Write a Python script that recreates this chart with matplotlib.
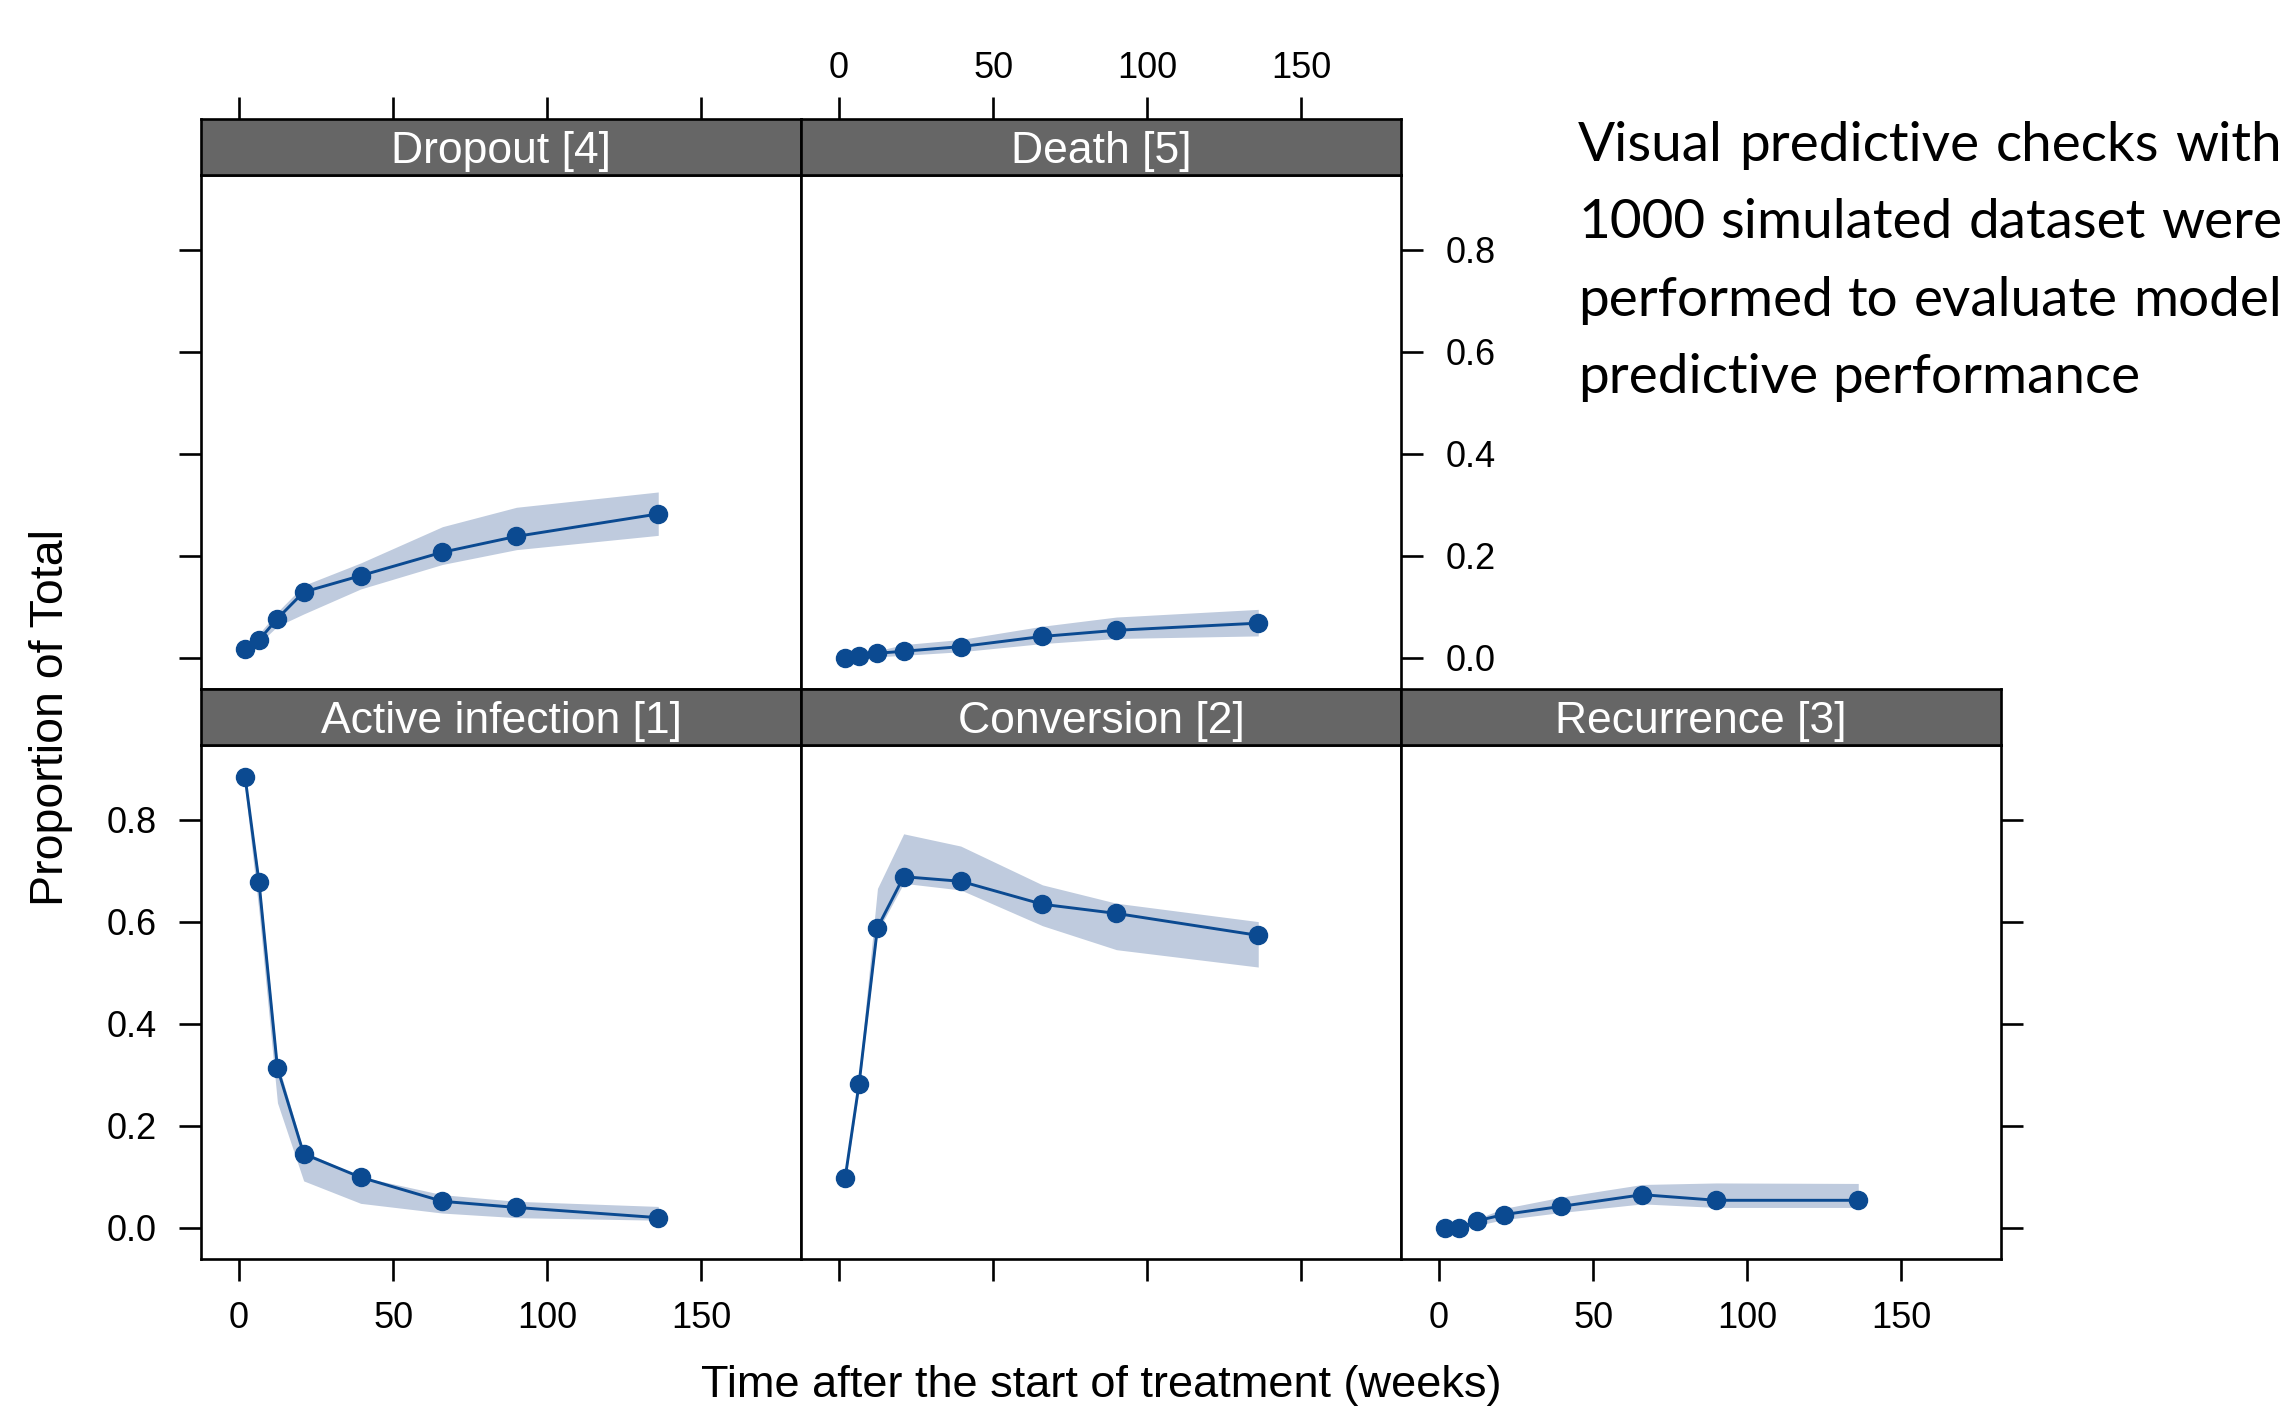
import matplotlib
matplotlib.use('Agg')
import matplotlib.pyplot as plt

# ---------------- data ----------------
times = [2, 6.5, 12.5, 21, 39.5, 66, 90, 136]

active_obs = [0.883, 0.678, 0.313, 0.145, 0.099, 0.052, 0.040, 0.020]
active_lo  = [0.860, 0.620, 0.245, 0.092, 0.048, 0.029, 0.020, 0.015]
active_hi  = [0.885, 0.690, 0.325, 0.150, 0.100, 0.065, 0.052, 0.042]

conv_obs = [0.097, 0.281, 0.588, 0.688, 0.679, 0.634, 0.616, 0.573]
conv_lo  = [0.090, 0.270, 0.580, 0.675, 0.662, 0.592, 0.545, 0.511]
conv_hi  = [0.100, 0.300, 0.665, 0.772, 0.748, 0.672, 0.636, 0.600]

rec_obs = [0.000, 0.000, 0.014, 0.026, 0.042, 0.065, 0.054, 0.054]
rec_lo  = [0.000, 0.000, 0.005, 0.016, 0.030, 0.047, 0.040, 0.040]
rec_hi  = [0.000, 0.004, 0.018, 0.038, 0.060, 0.085, 0.088, 0.087]

drop_obs = [0.018, 0.035, 0.077, 0.129, 0.161, 0.207, 0.238, 0.282]
drop_lo  = [0.013, 0.028, 0.062, 0.086, 0.135, 0.183, 0.212, 0.240]
drop_hi  = [0.025, 0.047, 0.090, 0.142, 0.186, 0.257, 0.295, 0.325]

death_obs = [0.000, 0.003, 0.009, 0.013, 0.022, 0.042, 0.054, 0.068]
death_lo  = [0.000, 0.000, 0.002, 0.005, 0.012, 0.028, 0.038, 0.043]
death_hi  = [0.002, 0.006, 0.014, 0.026, 0.036, 0.062, 0.080, 0.095]

panel_names = ["Active infection [1]", "Conversion [2]", "Recurrence [3]",
               "Dropout [4]", "Death [5]"]
x_ticks = [0, 50, 100, 150]
x_ticklabels = ["0", "50", "100", "150"]
y_ticks = [0.0, 0.2, 0.4, 0.6, 0.8]
y_ticklabels = ["0.0", "0.2", "0.4", "0.6", "0.8"]

xlabel = "Time after the start of treatment (weeks)"
ylabel = "Proportion of Total"
desc_lines = ["Visual predictive checks with",
              "1000 simulated dataset were",
              "performed to evaluate model",
              "predictive performance"]

# ---------------- style ----------------
W, H = 2292, 1407
DPI = 100
plt.rcParams['font.family'] = ['Liberation Sans', 'DejaVu Sans']
BLUE = '#0b4a91'
BAND = '#bfcbde'
STRIP = '#666666'
LW = 1.9
TICK_LEN = 16
TICK_FS = 26
XLIM = (-12.3, 182.3)
YLIM = (-0.061, 0.946)

fig = plt.figure(figsize=(W / DPI, H / DPI), dpi=DPI)


def rect(x0, y0, x1, y1):
    return [x0 / W, 1 - y1 / H, (x1 - x0) / W, (y1 - y0) / H]


col_left = [201, 801, 1401]
PW = 600
rows = {  # strip_top, panel_top, panel_bottom
    'top': (119, 175, 689),
    'bot': (689, 745, 1259),
}

panels = [
    # name, col, row, obs, lo, hi, config
    (panel_names[3], 0, 'top', drop_obs, drop_lo, drop_hi,
     dict(left=True, labelleft=False, top=True, labeltop=False)),
    (panel_names[4], 1, 'top', death_obs, death_lo, death_hi,
     dict(right=True, labelright=True, top=True, labeltop=True)),
    (panel_names[0], 0, 'bot', active_obs, active_lo, active_hi,
     dict(left=True, labelleft=True, bottom=True, labelbottom=True)),
    (panel_names[1], 1, 'bot', conv_obs, conv_lo, conv_hi,
     dict(bottom=True, labelbottom=False)),
    (panel_names[2], 2, 'bot', rec_obs, rec_lo, rec_hi,
     dict(right=True, labelright=False, bottom=True, labelbottom=True)),
]

for name, col, row, obs, lo, hi, cfg in panels:
    st, pt, pb = rows[row]
    x0 = col_left[col]
    ax = fig.add_axes(rect(x0, pt, x0 + PW, pb))
    ax.fill_between(times, lo, hi, color=BAND, lw=0, zorder=1)
    ax.plot(times, obs, '-', color=BLUE, lw=2.1, zorder=2)
    ax.plot(times, obs, 'o', color=BLUE, ms=13, mec=BLUE, zorder=3)
    ax.set_xlim(*XLIM)
    ax.set_ylim(*YLIM)
    for s in ax.spines.values():
        s.set_linewidth(LW)
        s.set_color('black')
    ax.set_xticks(x_ticks)
    ax.set_xticklabels(x_ticklabels)
    ax.set_yticks(y_ticks)
    ax.set_yticklabels(y_ticklabels)
    ax.tick_params(axis='both', direction='out', length=TICK_LEN, width=LW,
                   labelsize=TICK_FS, colors='black')
    ax.tick_params(axis='x', pad=14.5,
                   bottom=cfg.get('bottom', False),
                   labelbottom=cfg.get('labelbottom', False),
                   top=False, labeltop=False)
    ax.tick_params(axis='y', pad=16,
                   left=cfg.get('left', False),
                   labelleft=cfg.get('labelleft', False),
                   right=cfg.get('right', False),
                   labelright=cfg.get('labelright', False))

    # strip
    sax = fig.add_axes(rect(x0, st, x0 + PW, pt))
    sax.set_facecolor(STRIP)
    sax.set_xlim(*XLIM)
    sax.set_ylim(0, 1)
    for s in sax.spines.values():
        s.set_linewidth(LW)
        s.set_color('black')
    sax.set_yticks([])
    sax.set_xticks(x_ticks)
    sax.set_xticklabels(x_ticklabels)
    sax.tick_params(axis='x', direction='out', length=TICK_LEN, width=LW,
                    labelsize=TICK_FS, pad=8, bottom=False, labelbottom=False,
                    top=cfg.get('top', False), labeltop=cfg.get('labeltop', False))
    sax.text(0.5, 0.21, name, transform=sax.transAxes, ha='center',
             va='baseline', color='white', fontsize=32)

# axis labels
fig.text(51 / W, 1 - 717.5 / H, ylabel, rotation=90, ha='center', va='center',
         fontsize=33.5)
fig.text(1101 / W, 10 / H, xlabel, ha='center', va='baseline', fontsize=32.5)

# justified description text
renderer = fig.canvas.get_renderer()
DESC_FS = 39.5
DESC_FAMILY = ['Lato', 'DejaVu Sans']
X0, X1 = 1578, 2282
baselines = [161, 238.5, 316, 393.5]


def text_w(s):
    t = fig.text(0, 0, s, fontsize=DESC_FS, family=DESC_FAMILY)
    w = t.get_window_extent(renderer).width
    t.remove()
    return w


space_w = text_w("a a") - text_w("aa")
for i, line in enumerate(desc_lines):
    words = line.split()
    widths = [text_w(wd) for wd in words]
    if i < len(desc_lines) - 1 and len(words) > 1:
        gap = (X1 - X0 - sum(widths)) / (len(words) - 1)
    else:
        gap = space_w
    x = X0
    for wd, w in zip(words, widths):
        fig.text(x / W, 1 - baselines[i] / H, wd, fontsize=DESC_FS,
                 family=DESC_FAMILY, ha='left', va='baseline')
        x += w + gap

fig.savefig('out.png', dpi=DPI)
